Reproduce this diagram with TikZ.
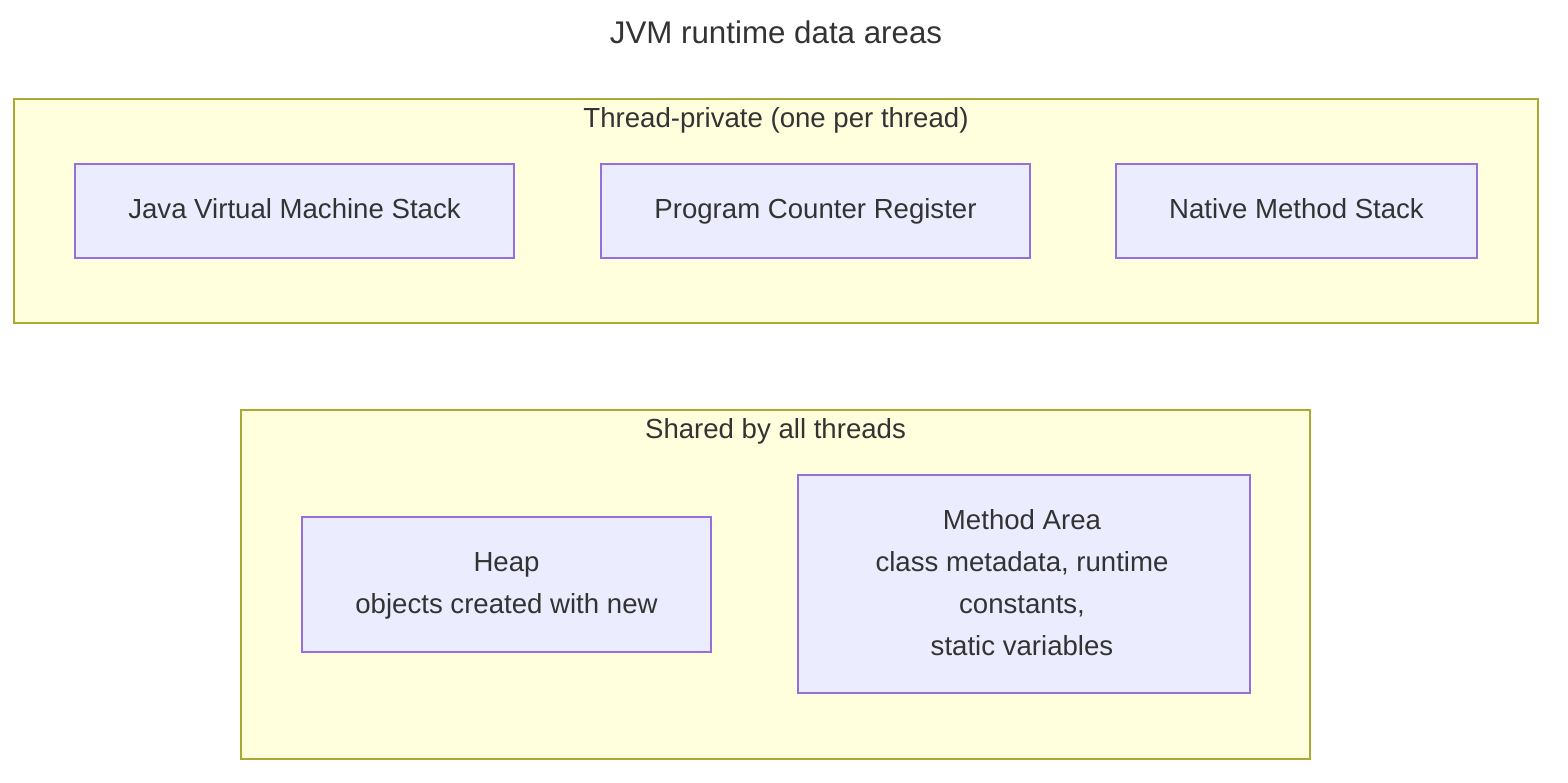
\documentclass[tikz,border=0pt]{standalone}
\usepackage{fontspec}
\setmainfont{Liberation Sans}
\definecolor{clfill}{HTML}{FFFFDE}
\definecolor{cldraw}{HTML}{AAAA33}
\definecolor{ndfill}{HTML}{ECECFF}
\definecolor{nddraw}{HTML}{9370DB}
\definecolor{txt}{HTML}{333333}
\newcommand{\ls}{\rule[-8.6pt]{0pt}{33.4pt}}
\tikzset{
  cluster/.style={draw=cldraw, fill=clfill, line width=1.8pt},
  nodebox/.style={draw=nddraw, fill=ndfill, line width=1.8pt},
  lbl/.style={text=txt, font=\fontsize{27.6}{42}\selectfont, align=center, inner sep=0pt},
  ttl/.style={text=txt, font=\fontsize{31.3}{40}\selectfont, inner sep=0pt},
}
\begin{document}
\begin{tikzpicture}[x=1pt,y=-1pt]
\useasboundingbox (0,0) rectangle (1568,782);
\node[ttl] (title) at (776,34) {\rule[-9.8pt]{0pt}{37.8pt}JVM runtime data areas};
% cluster 1
\draw[cluster] (14,99) rectangle (1538,323);
\node[lbl] (c1) at (776,119) {\ls Thread-private (one per thread)};
\draw[nodebox] (75,164) rectangle (514,258);
\node[lbl] (jvms) at (294.5,210) {\ls Java Virtual Machine Stack};
\draw[nodebox] (601,164) rectangle (1030,258);
\node[lbl] (pcr) at (815.5,210) {\ls Program Counter Register};
\draw[nodebox] (1116,164) rectangle (1477,258);
\node[lbl] (nms) at (1296.5,210) {\ls Native Method Stack};
% cluster 2
\draw[cluster] (241,410) rectangle (1310,759);
\node[lbl] (c2) at (775.5,430) {\ls Shared by all threads};
\draw[nodebox] (302,517) rectangle (711,652);
\node[lbl] (heap) at (506.5,584) {\ls Heap\\\ls objects created with new};
\draw[nodebox] (798,475) rectangle (1250,693);
\node[lbl] (ma) at (1022,584.5) {\ls Method Area\\\ls class metadata, runtime\\\ls constants,\\\ls static variables};
\end{tikzpicture}
\end{document}
